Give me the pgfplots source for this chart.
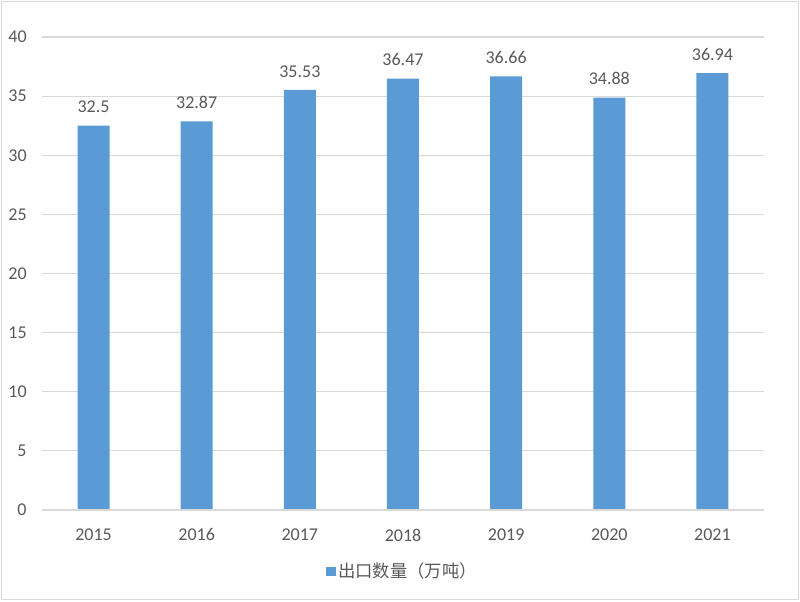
\documentclass[border=0pt]{standalone}
\usepackage{pgfplots}
\pgfplotsset{compat=1.18}
\usepackage{fontspec}
\setmainfont{Carlito}
\newfontfamily\cjk{Noto Sans CJK SC}
\definecolor{barblue}{HTML}{5B9BD5}
\definecolor{gridgray}{HTML}{D9D9D9}
\definecolor{txt}{HTML}{595959}
\begin{document}
\begin{tikzpicture}
\begin{axis}[
  at={(31.5pt,68.25pt)}, anchor=south west,
  scale only axis,
  width=541.5pt, height=354.75pt,
  xmin=-0.5, xmax=6.5,
  ymin=0, ymax=40,
  ytick={0,5,...,40},
  xtick=data,
  xticklabels={2015,2016,2017,2018,2019,2020,2021},
  axis line style={draw=none},
  ymajorgrids,
  grid style={gridgray, line width=0.9pt},
  major tick length=0pt,
  tick label style={font=\fontsize{13.5}{15}\selectfont, text=txt},
  /pgf/number format/assume math mode=true,
  yticklabel style={xshift=-8pt},
  xticklabel style={yshift=-10.5pt},
  legend style={at={(0.5,-0.13)}, anchor=center, draw=none,
    font=\cjk\fontsize{13}{15}\selectfont, text=txt},
  legend image code/.code={\fill[barblue] (0,-3.5pt) rectangle (7pt,3.5pt);},
  nodes near coords,
  point meta=explicit symbolic,
  every node near coord/.append style={font=\fontsize{13.5}{15}\selectfont, text=txt, yshift=6pt},
]
\addplot[ybar, bar width=24pt, fill=barblue, draw=none] table[meta=lab] {
x y lab
0 32.5 32.5
1 32.87 32.87
2 35.53 35.53
3 36.47 36.47
4 36.66 36.66
5 34.88 34.88
6 36.94 36.94
};
\addlegendentry{出口数量（万吨）}
\draw[gridgray, line width=0.9pt] (axis cs:-0.5,0) -- (axis cs:6.5,0);
\end{axis}
\draw[gridgray, line width=0.75pt] (1.2pt,1.2pt) rectangle (598.8pt,449.55pt);
\path[use as bounding box] (0pt,0pt) rectangle (600pt,450.75pt);
\end{tikzpicture}
\end{document}
